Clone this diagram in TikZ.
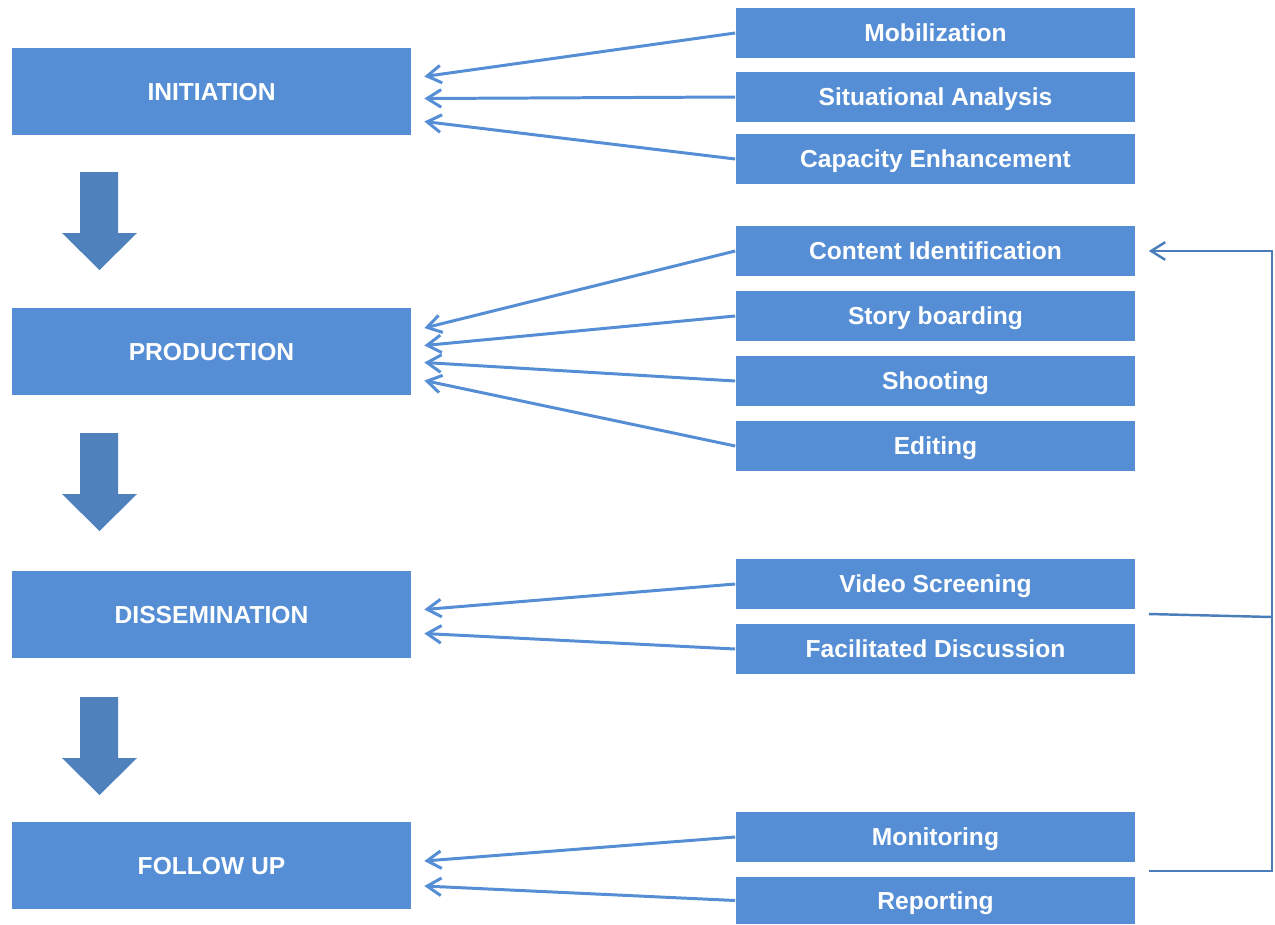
\documentclass[tikz,border=0pt]{standalone}
\usepackage{fontspec}
\setmainfont{Liberation Sans}
\usepackage{tikz}
\usepackage{xcolor}
\usetikzlibrary{arrows.meta,calc}

\definecolor{boxblue}{HTML}{558ED5}
\definecolor{arrowblue}{HTML}{4F81BD}
\definecolor{loopblue}{HTML}{4A7EBB}

\tikzset{
    phase/.style={fill=boxblue, text=white, inner sep=0pt,
        minimum width=7.98cm, minimum height=1.74cm,
        text height=10pt, text depth=0pt,
        font=\bfseries\fontsize{14}{16}\selectfont},
    task/.style={fill=boxblue, text=white, inner sep=0pt,
        minimum width=8cm, minimum height=1cm,
        text height=10pt, text depth=0pt,
        font=\bfseries\fontsize{14}{16}\selectfont},
    link/.style={boxblue, line width=1.7pt, -{Straight Barb[length=8pt,width=10pt,line width=1.7pt]}},
    feedback/.style={loopblue, line width=1.4pt},
    blockarrow/.style={fill=arrowblue}
}

\begin{document}
\begin{tikzpicture}[x=0.02cm, y=-0.02cm]
        \useasboundingbox (0,0) rectangle (1275,924);

        % Etapas principales
        \node[phase] (init) at (211.5,91.5) {INITIATION};
        \node[phase] (prod) at (211.5,351.5) {PRODUCTION};
        \node[phase] (diss) at (211.5,614.5) {DISSEMINATION};
        \node[phase] (foll) at (211.5,865.5) {FOLLOW UP};

        % Flechas de bloque entre etapas
        \foreach \y in {172,433,697}
            \fill[blockarrow] (80,\y) -- (118,\y) -- (118,\y+61) -- (137,\y+61)
                -- (99.5,\y+98) -- (62,\y+61) -- (80,\y+61) -- cycle;

        % Actividades
        \node[task] (mob) at (935.5,33) {Mobilization};
        \node[task] (sit) at (935.5,97) {Situational Analysis};
        \node[task] (cap) at (935.5,159) {Capacity Enhancement};
        \node[task] (cont) at (935.5,251) {Content Identification};
        \node[task] (story) at (935.5,316) {Story boarding};
        \node[task] (shoot) at (935.5,381) {Shooting};
        \node[task] (edit) at (935.5,446) {Editing};
        \node[task] (vid) at (935.5,584) {Video Screening};
        \node[task] (fac) at (935.5,649) {Facilitated Discussion};
        \node[task] (mon) at (935.5,837) {Monitoring};
        \node[task, minimum height=0.94cm] (rep) at (935.5,900.5) {Reporting};

        % Conexiones actividad -> etapa
        \draw[link] (mob.west) -- ($(init.east)+(13,-15)$);
        \draw[link] (sit.west) -- ($(init.east)+(13,7)$);
        \draw[link] (cap.west) -- ($(init.east)+(13,30)$);

        \draw[link] (cont.west) -- ($(prod.east)+(13,-23.5)$);
        \draw[link] (story.west) -- ($(prod.east)+(13,-6)$);
        \draw[link] (shoot.west) -- ($(prod.east)+(13,11)$);
        \draw[link] (edit.west) -- ($(prod.east)+(13,29)$);

        \draw[link] (vid.west) -- ($(diss.east)+(13,-5)$);
        \draw[link] (fac.west) -- ($(diss.east)+(13,19)$);

        \draw[link] (mon.west) -- ($(foll.east)+(13,-4.5)$);
        \draw[link] (rep.west) -- ($(foll.east)+(13,20.5)$);

        % Retroalimentacion
        \coordinate (fbtop) at (1272,251);
        \coordinate (fbmid) at (1272,617);
        \coordinate (fbbot) at (1272,871);
        \draw[feedback] ($(vid.east)+(13,30)$) -- (fbmid);
        \draw[feedback, -{Straight Barb[length=8pt,width=10pt,line width=1.4pt]}]
            ($(mon.east)+(13,34)$) -- (fbbot) -- (fbtop) -- ($(cont.east)+(13,0)$);
    \end{tikzpicture}
\end{document}
